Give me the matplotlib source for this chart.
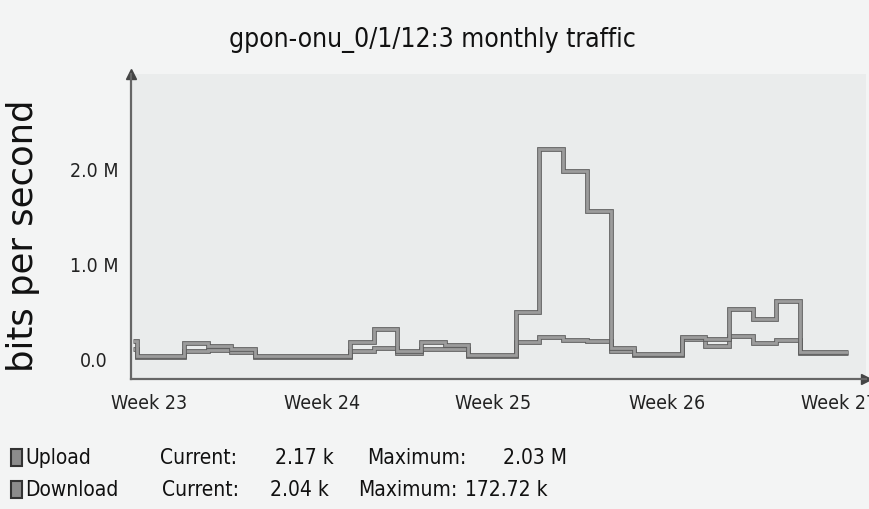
import numpy as np
import matplotlib
matplotlib.use("Agg")
import matplotlib.pyplot as plt
import matplotlib.patheffects as pe
from matplotlib.patches import Rectangle

# ---- data (Mbit/s), one value per step; first value is the short lead-in step
day_edges = np.concatenate([[-0.15], np.arange(0, 31)])
upload = [0.18, 0.02, 0.02, 0.16, 0.13, 0.10, 0.02, 0.02, 0.02, 0.02,
          0.17, 0.31, 0.07, 0.17, 0.14, 0.03, 0.03, 0.49, 2.21, 1.98,
          1.56, 0.11, 0.04, 0.04, 0.22, 0.20, 0.52, 0.41, 0.60, 0.06, 0.06]
download = [0.10, 0.015, 0.015, 0.07, 0.08, 0.06, 0.015, 0.015, 0.015, 0.015,
            0.07, 0.11, 0.05, 0.10, 0.10, 0.025, 0.025, 0.17, 0.22, 0.19,
            0.18, 0.07, 0.035, 0.035, 0.20, 0.13, 0.23, 0.16, 0.19, 0.055, 0.055]
week_labels = ["Week 23", "Week 24", "Week 25", "Week 26", "Week 27"]
week_pos = [0.53, 7.81, 15.06, 22.39, 29.64]
y_ticks = [0.0, 1.0, 2.0]
y_tick_labels = ["0.0", "1.0 M", "2.0 M"]
legend_rows = [("Upload", "Current:", "2.17 k", "Maximum:", "2.03 M"),
               ("Download", "Current:", "2.04 k", "Maximum:", "172.72 k")]

W, H = 869, 510
fig = plt.figure(figsize=(W / 100, H / 100), dpi=100, facecolor="#f3f4f4")
ax = fig.add_axes([131 / W, 1 - 380 / H, (866 - 131) / W, (380 - 75) / H])
ax.set_facecolor("#eaecec")
ax.set_xlim(-0.236, 30.78)
ax.set_ylim(-0.222, 3.005)

for vals in (download, upload):
    ax.stairs(vals, day_edges, baseline=None, color="#9c9c9c", lw=2.0,
              path_effects=[pe.Stroke(linewidth=3.4, foreground="#5e5e5e"), pe.Normal()])

for s in ("top", "right"):
    ax.spines[s].set_visible(False)
for s in ("left", "bottom"):
    ax.spines[s].set_color("#666666")
    ax.spines[s].set_linewidth(1.6)

ax.set_yticks(y_ticks)
ax.set_yticklabels(y_tick_labels, fontsize=14, fontstretch="condensed", color="#222222")
ax.tick_params(axis="y", length=0)
for lab in ax.get_yticklabels():
    lab.set_horizontalalignment("center")
    lab.set_x(-0.044)
ax.set_xticks(week_pos)
ax.set_xticklabels(week_labels, fontsize=14, fontstretch="condensed", color="#222222")
ax.tick_params(axis="x", length=0, pad=10)

fig.text(23 / W, 1 - 236 / H, "bits per second", rotation=90, ha="center", va="center",
         fontsize=25.5, color="#111111")

# arrows on the axes
ax.plot([0], [1], marker="^", ms=7, color="#444444", transform=ax.transAxes, clip_on=False)
ax.plot([1], [0], marker=">", ms=7, color="#444444", transform=ax.transAxes, clip_on=False)

fig.text(432 / W, 1 - 40 / H, "gpon-onu_0/1/12:3 monthly traffic", ha="center", va="center",
         fontsize=19, fontstretch="condensed", color="#111111")

# legend
col_x = [[25, 160, 275, 367, 503], [25, 162, 270, 358, 465]]
row_y = [458, 490]
for row, yy, xs in zip(legend_rows, row_y, col_x):
    fig.patches.append(Rectangle((11 / W, 1 - (yy + 9) / H), 11 / W, 17 / H,
                                 transform=fig.transFigure, facecolor="#8c8c8c",
                                 edgecolor="#333333", lw=1.5))
    for txt, xx in zip(row, xs):
        fig.text(xx / W, 1 - yy / H, txt, ha="left", va="center", fontsize=15,
                 fontstretch="condensed", color="#111111")

fig.savefig("out.png", dpi=100, facecolor=fig.get_facecolor())
